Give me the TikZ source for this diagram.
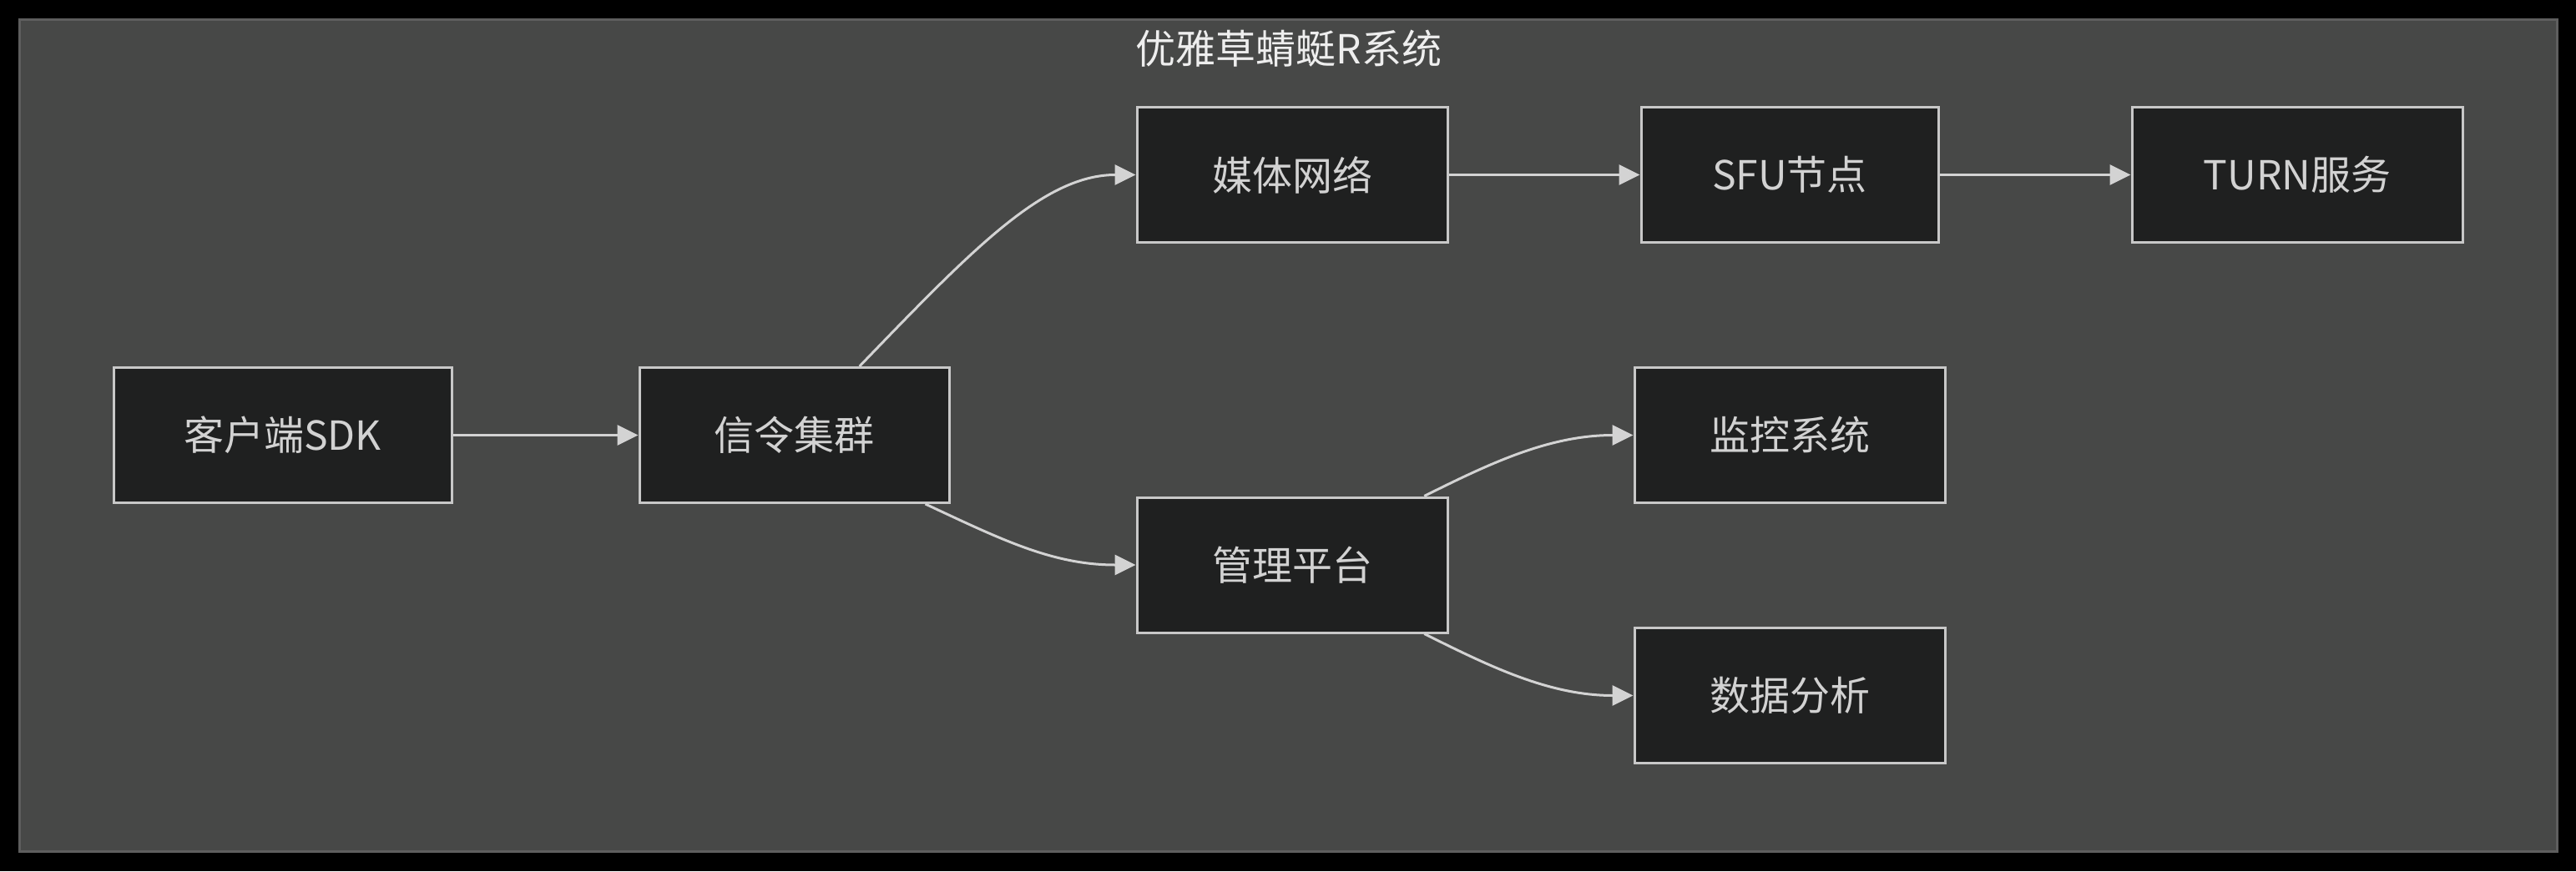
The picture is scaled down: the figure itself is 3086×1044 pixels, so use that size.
\documentclass[tikz,border=0pt]{standalone}
\usepackage{fontspec}
\setmainfont{Noto Sans CJK SC}
\usetikzlibrary{arrows.meta,calc}
\definecolor{bgc}{HTML}{000000}
\definecolor{clfill}{HTML}{474847}
\definecolor{cldraw}{HTML}{5E5E5E}
\definecolor{ndfill}{HTML}{1F2020}
\definecolor{nddraw}{HTML}{C8C8C8}
\definecolor{ndtext}{HTML}{D2D2D2}
\definecolor{edgec}{HTML}{D3D3D3}
\definecolor{titlec}{HTML}{EEEEEE}
\tikzset{
  box/.style={draw=nddraw, fill=ndfill, line width=3pt, rectangle, inner sep=0pt,
    minimum height=162pt, text=ndtext, font=\fontsize{48}{58}\selectfont},
  flow/.style={draw=edgec, line width=3pt, -{Triangle[length=25pt,width=24pt]}},
}
\begin{document}
\begin{tikzpicture}[x=1pt,y=-1pt]
\useasboundingbox (0,0) rectangle (3086,1044);
\fill[bgc] (0,0) rectangle (3086,1044);
\draw[fill=clfill, draw=cldraw, line width=3pt] (23,23) rectangle (3063,1020);
\node[text=titlec, font=\fontsize{48}{58}\selectfont] (title) at (1544,58) {优雅草蜻蜓R系统};

\node[box, minimum width=405pt] (client) at (338.5,521.5) {客户端SDK};
\node[box, minimum width=371pt] (signal) at (951.5,521.5) {信令集群};
\node[box, minimum width=372pt] (media) at (1548,209.5) {媒体网络};
\node[box, minimum width=356pt] (sfu) at (2144,209.5) {SFU节点};
\node[box, minimum width=396pt] (turn) at (2752,209.5) {TURN服务};
\node[box, minimum width=372pt] (monitor) at (2144,521.5) {监控系统};
\node[box, minimum width=372pt] (mgmt) at (1548,677) {管理平台};
\node[box, minimum width=372pt] (data) at (2144,833.5) {数据分析};

\draw[flow] (client.east) -- (signal.west);
\draw[flow] (media.east) -- (sfu.west);
\draw[flow] (sfu.east) -- (turn.west);

\coordinate (s1) at ($(signal.north west)!0.709!(signal.north east)$);
\coordinate (s2) at ($(signal.south west)!0.92!(signal.south east)$);
\coordinate (m1) at ($(mgmt.north west)!0.922!(mgmt.north east)$);
\coordinate (m2) at ($(mgmt.south west)!0.922!(mgmt.south east)$);

\draw[flow] (s1) .. controls ($(s1)+(135,-140)$) and ($(media.west)+(-110,0)$) .. (media.west);
\draw[flow] (s2) .. controls ($(s2)+(90,42)$) and ($(mgmt.west)+(-100,0)$) .. (mgmt.west);
\draw[flow] (m1) .. controls ($(m1)+(80,-40)$) and ($(monitor.west)+(-100,0)$) .. (monitor.west);
\draw[flow] (m2) .. controls ($(m2)+(80,40)$) and ($(data.west)+(-100,0)$) .. (data.west);
\end{tikzpicture}
\end{document}
